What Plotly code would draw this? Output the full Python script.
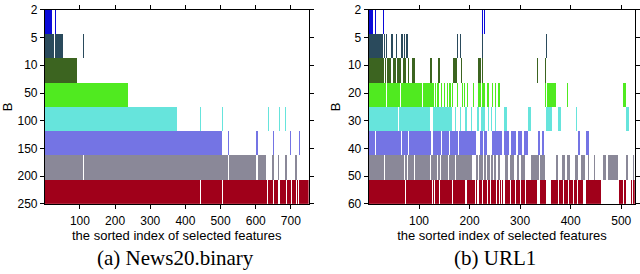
import numpy as np
import plotly.graph_objects as go

# ---------------- data ----------------
colors = ["#0a0ad8", "#2a4a5c", "#3c6420", "#50ea20",
          "#66e4dc", "#7474e4", "#8a8898", "#a0001a"]

news20_B = ["2", "5", "10", "50", "100", "150", "200", "250"]
news20_n = 750
news20_sel = [
    [[1, 19], [29, 31]],
    [[1, 27], [30, 51], [108, 110]],
    [[1, 92]],
    [[1, 236]],
    [[1, 374], [442, 444], [503, 505], [635, 637], [667, 669], [683, 685]],
    [[1, 502], [521, 523], [602, 604], [650, 652], [698, 700], [722, 724]],
    [[1, 107], [111, 520], [524, 601], [605, 629], [647, 650], [663, 666],
     [684, 687], [712, 715]],
    [[1, 441], [445, 503], [507, 632], [636, 648], [652, 662], [666, 666],
     [670, 684], [688, 698], [702, 712], [716, 720], [724, 750]],
]

url1_B = ["2", "5", "10", "20", "30", "40", "50", "60"]
url1_n = 527
url1_sel = [
    [[1, 9], [13, 14], [29, 30], [225, 226], [229, 230]],
    [[1, 28], [32, 33], [36, 37], [46, 48], [55, 56], [64, 67], [70, 71],
     [75, 78], [176, 177], [181, 183], [225, 226], [352, 354]],
    [[1, 31], [33, 35], [38, 45], [49, 55], [57, 58], [60, 64], [68, 74],
     [79, 80], [87, 91], [110, 110], [122, 125], [139, 141], [169, 174],
     [184, 184], [217, 222], [225, 226], [335, 336], [350, 351]],
    [[1, 34], [37, 62], [65, 106], [109, 130], [132, 133], [137, 139],
     [144, 145], [150, 151], [156, 157], [160, 164], [167, 168], [176, 177],
     [186, 187], [189, 190], [196, 197], [208, 209], [217, 222], [226, 230],
     [236, 239], [245, 246], [251, 252], [258, 259], [260, 261], [350, 351],
     [354, 372], [393, 394], [505, 509]],
    [[1, 59], [62, 122], [128, 166], [172, 172], [182, 183], [192, 195],
     [204, 205], [215, 218], [224, 230], [237, 238], [243, 244], [251, 252],
     [270, 274], [316, 322], [353, 363], [376, 380], [411, 412], [510, 516]],
    [[1, 12], [15, 63], [67, 77], [80, 123], [128, 143], [147, 160],
     [163, 176], [180, 212], [222, 226], [230, 234], [245, 265], [270, 278],
     [283, 292], [297, 304], [309, 316], [337, 340], [344, 348], [415, 419],
     [431, 437]],
    [[1, 31], [34, 69], [72, 75], [78, 90], [93, 122], [125, 135], [138, 142],
     [145, 158], [161, 171], [174, 204], [213, 217], [220, 226], [230, 232],
     [236, 240], [244, 246], [250, 252], [258, 261], [271, 276], [281, 287],
     [294, 297], [303, 309], [322, 337], [340, 350], [373, 376], [383, 389],
     [394, 399], [410, 415], [422, 429], [435, 436], [448, 449], [465, 471],
     [475, 494], [510, 514], [524, 525]],
    [[1, 71], [74, 125], [128, 130], [133, 140], [143, 165], [168, 191],
     [196, 211], [214, 215], [219, 224], [227, 234], [237, 240], [243, 253],
     [256, 258], [262, 263], [266, 267], [272, 280], [283, 290], [293, 300],
     [303, 310], [313, 334], [341, 352], [363, 375], [378, 385], [388, 395],
     [398, 405], [408, 412], [416, 424], [431, 461], [469, 469], [496, 503],
     [506, 509], [520, 521], [524, 527]],
]

x_tick_news = [100, 200, 300, 400, 500, 600, 700]
x_tick_url = [100, 200, 300, 400, 500]
x_title = "the sorted index of selected features"
captions = ["(a) News20.binary", "(b) URL1"]


def build_z(sel, n):
    z = np.zeros((len(sel), n))
    for r, ivs in enumerate(sel):
        for a, b in ivs:
            z[r, a - 1:b] = r + 1
    return z


# discrete colorscale: 0 -> white, k -> colors[k-1]
levels = ["#ffffff"] + colors
cs = []
nl = len(levels)
for k, c in enumerate(levels):
    cs.append([k / nl, c])
    cs.append([(k + 1) / nl, c])

fig = go.Figure()

panels = [
    (news20_sel, news20_n, news20_B, x_tick_news, "x", "y", [0.0703, 0.483]),
    (url1_sel, url1_n, url1_B, x_tick_url, "x2", "y2", [0.577, 0.994]),
]

H = 274.0
W = 640.0
ydom = [1 - 207.5 / H, 1 - 3 / H]
tickpos = [-0.5 + k * 8 / 7 for k in range(8)]
cap_x = [175.5 / W, 496.0 / W]

for i, (sel, n, Bs, xt, xa, ya, xdom) in enumerate(panels):
    z = build_z(sel, n)
    fig.add_trace(go.Heatmap(
        z=z, x=np.arange(1, n + 1), y=np.arange(len(sel)),
        colorscale=cs, zmin=-0.5, zmax=8.5, showscale=False,
        xaxis=xa, yaxis=ya, hoverinfo="skip"))
    sfx = "" if i == 0 else "2"
    fig.update_layout(**{
        "xaxis" + sfx: dict(
            domain=xdom, anchor=ya, range=[0.5, n + 0.5],
            tickvals=xt, ticks="outside", ticklen=4, tickwidth=1,
            tickcolor="black", showline=True, linecolor="black",
            linewidth=1, mirror="allticks", showgrid=False, zeroline=False,
            ticklabelstandoff=2, ticklabeloverflow="allow",
            tickfont=dict(family="Liberation Sans", size=12, color="black"),
            title=dict(text=x_title, standoff=0,
                       font=dict(family="Liberation Sans", size=13,
                                 color="black"))),
        "yaxis" + sfx: dict(
            domain=ydom, anchor=xa, range=[7.5, -0.5],
            tickvals=tickpos, ticktext=Bs, ticks="outside", ticklen=4,
            tickwidth=1, tickcolor="black", showline=True,
            linecolor="black", linewidth=1, mirror="allticks",
            showgrid=False, zeroline=False, ticklabeloverflow="allow",
            tickfont=dict(family="Liberation Sans", size=12, color="black"),
            title=dict(text="B", standoff=4,
                       font=dict(family="Liberation Sans", size=13,
                                 color="black"))),
    })
    fig.add_annotation(
        text=captions[i], x=cap_x[i],
        y=1 - 264.0 / H, xref="paper", yref="paper", showarrow=False,
        xanchor="center", yanchor="middle",
        font=dict(family="Liberation Serif", size=21, color="black"))

fig.update_layout(
    width=640, height=274, margin=dict(l=0, r=0, t=0, b=0),
    paper_bgcolor="white", plot_bgcolor="white", showlegend=False)

fig.write_html("out.html",
               config={"displayModeBar": False},
               post_script="document.body.style.margin='0';"
                           "document.body.style.overflow='hidden';")
